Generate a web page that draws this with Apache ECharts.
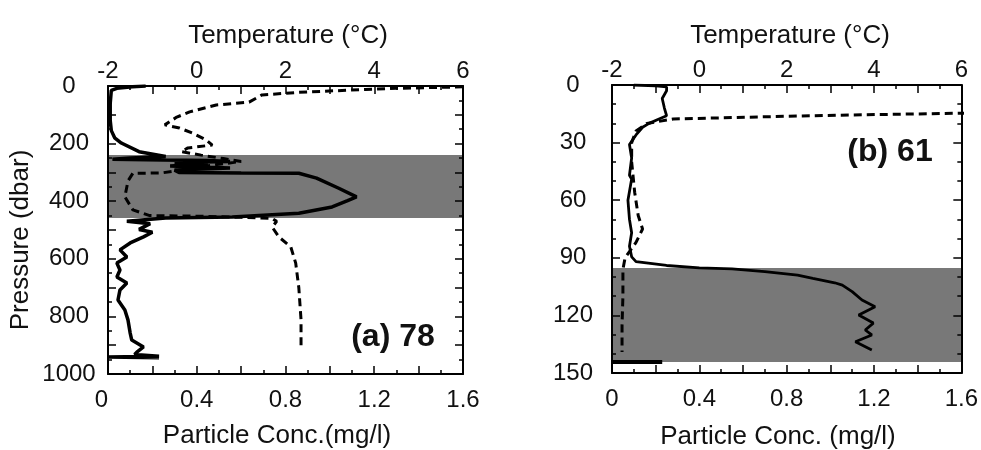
<!DOCTYPE html>
<html>
<head>
<meta charset="utf-8">
<script src="https://cdn.jsdelivr.net/npm/echarts@6/dist/echarts.min.js"></script>
<style>
html,body{margin:0;padding:0;background:#fff;}
#chart{width:981px;height:450px;}
</style>
</head>
<body>
<div id="chart"></div>
<script>
// ---- Tick labels ----
const tempTicks = [-2, 0, 2, 4, 6];
const concTicks = [0, 0.4, 0.8, 1.2, 1.6];
const pressTicksA = [0, 200, 400, 600, 800, 1000];
const pressTicksB = [0, 30, 60, 90, 120, 150];

// ---- Panel (a) station 78: [particle conc (mg/l), pressure (dbar)] ----
const concA = [
  [0.17,0],[0.11,3],[0.04,8],[0.015,15],[0.01,60],[0.01,120],[0.015,155],[0.03,180],[0.06,198],
  [0.14,228],[0.26,245],[0.1,250],[0.02,254],[0.25,257],[0.45,259],[0.55,262],[0.3,266],[0.45,270],
  [0.28,278],[0.55,285],[0.3,292],[0.32,300],[0.6,302],[0.86,303],[0.94,320],[1.04,355],[1.12,385],
  [1.08,398],[1.01,420],[0.86,442],[0.56,455],[0.26,458],[0.085,470],[0.19,478],[0.14,498],[0.2,508],
  [0.16,524],[0.1,545],[0.054,569],[0.085,594],[0.04,615],[0.054,639],[0.04,663],[0.085,684],
  [0.054,708],[0.045,743],[0.076,778],[0.09,812],[0.1,858],[0.107,882],[0.16,906],[0.13,924],
  [0.12,932],[0.23,938],[0.0,941],[0.23,944]
];
// [temperature (°C), pressure (dbar)]
const tempA = [
  [6,3],[4.5,8],[3.8,12],[2.3,22],[1.47,31],[1.18,56],[0.44,66],[-0.16,90],[-0.45,108],[-0.72,135],
  [-0.39,146],[-0.1,163],[0.22,188],[0.35,205],[-0.2,215],[-0.35,228],[0.1,240],[0.6,252],[1.0,262],
  [0.5,272],[0.0,282],[-0.5,295],[-0.8,302],[-1.44,303],[-1.55,330],[-1.62,385],[-1.44,430],
  [-1.06,450],[0.0,452],[1.0,456],[1.7,460],[1.8,470],[1.7,490],[1.85,524],[2.12,559],[2.23,615],
  [2.3,700],[2.35,812],[2.35,915]
];
const bandA = [240, 458];

// ---- Panel (b) station 61 ----
const concB = [
  [0.1,0],[0.2,0.5],[0.25,1],[0.25,3],[0.23,7],[0.24,12],[0.25,16],[0.21,18],[0.17,20],[0.14,22],
  [0.11,26],[0.08,31],[0.09,38],[0.08,47],[0.09,49],[0.073,60],[0.08,70],[0.09,77],[0.08,84],
  [0.09,89.5],[0.11,92],[0.25,94],[0.4,95.2],[0.55,95.8],[0.7,97.2],[0.85,99],[0.92,100.7],
  [1.02,103],[1.055,104.2],[1.1,107.6],[1.145,112],[1.205,115.5],[1.13,119.8],[1.197,124],
  [1.16,127.6],[1.19,130.2],[1.115,133.7],[1.19,138]
];
const concBarB = [[0,144.3],[0.23,144.3]];
const tempB = [
  [8,0],[7.5,10],[6.5,14.5],[6.0,14.7],[3.5,15.6],[2.0,16.3],[-0.6,17.7],[-1.2,20],[-1.45,24],
  [-1.55,30],[-1.55,40],[-1.48,56],[-1.4,68],[-1.3,75],[-1.45,82],[-1.7,90],[-1.75,96],
  [-1.75,110],[-1.77,125],[-1.77,139]
];
const bandB = [95.3, 144.3];

const FONT = '"Liberation Sans", Arial, Helvetica, sans-serif';
const TXT = '#111';
const lineCol = '#000';

function hasTick(list, v) {
  return list.some(t => Math.abs(t - v) < 1e-6);
}
function fmt(v) {
  const r = Math.round(v * 10) / 10;
  return String(r);
}

function xConc(grid, alignMin) {
  return {
    type: 'value', gridIndex: grid, position: 'bottom', min: 0, max: 1.6, interval: 0.2, z: 10,
    axisLine: {show: true, onZero: false, lineStyle: {color: lineCol, width: 2}},
    axisTick: {show: true, inside: true, length: 8, lineStyle: {color: lineCol, width: 1.5}},
    minorTick: {show: true, splitNumber: 2, length: 4, lineStyle: {color: lineCol, width: 1.5}},
    splitLine: {show: false},
    axisLabel: {
      margin: 14, color: TXT, fontFamily: FONT, fontSize: 24,
      alignMinLabel: alignMin,
      formatter: v => hasTick(concTicks, v) ? fmt(v) : ''
    }
  };
}
function xTemp(grid) {
  return {
    type: 'value', gridIndex: grid, position: 'top', min: -2, max: 6, interval: 1, z: 10,
    axisLine: {show: true, onZero: false, lineStyle: {color: lineCol, width: 2}},
    axisTick: {show: true, inside: true, length: 8, lineStyle: {color: lineCol, width: 1.5}},
    minorTick: {show: true, splitNumber: 2, length: 4, lineStyle: {color: lineCol, width: 1.5}},
    splitLine: {show: false},
    axisLabel: {
      margin: 3, color: TXT, fontFamily: FONT, fontSize: 24,
      formatter: v => hasTick(tempTicks, v) ? fmt(v) : ''
    }
  };
}
function yPress(grid, pos, max, interval, minorSplit, ticks, showLabel) {
  return {
    type: 'value', gridIndex: grid, position: pos, inverse: true, min: 0, max: max, interval: interval, z: 10,
    axisLine: {show: true, onZero: false, lineStyle: {color: lineCol, width: 2}},
    axisTick: {show: true, inside: true, length: 8, lineStyle: {color: lineCol, width: 1.5}},
    minorTick: {show: true, splitNumber: minorSplit, length: 4, lineStyle: {color: lineCol, width: 1.5}},
    splitLine: {show: false},
    axisLabel: {
      show: showLabel, margin: 39, align: 'center', color: TXT, fontFamily: FONT, fontSize: 24,
      formatter: v => hasTick(ticks, v) ? String(Math.round(v)) : ''
    }
  };
}

const option = {
  backgroundColor: '#fff',
  animation: false,
  grid: [
    {left: 108, top: 86, width: 355, height: 288},
    {left: 612, top: 85, width: 356, height: 288}
  ],
  xAxis: [
    xConc(0, 'right'), xTemp(0),
    xConc(1, 'center'), xTemp(1)
  ],
  yAxis: [
    yPress(0, 'left', 1000, 100, 2, pressTicksA, true),
    yPress(0, 'right', 1000, 100, 2, pressTicksA, false),
    yPress(1, 'left', 150, 30, 3, pressTicksB, true),
    yPress(1, 'right', 150, 30, 3, pressTicksB, false)
  ],
  series: [
    {
      type: 'line', xAxisIndex: 0, yAxisIndex: 0, data: [], symbol: 'none', z: 1,
      markArea: {silent: true, itemStyle: {color: '#787878', opacity: 1},
        data: [[{yAxis: bandA[0]}, {yAxis: bandA[1]}]]}
    },
    {
      type: 'line', xAxisIndex: 2, yAxisIndex: 2, data: [], symbol: 'none', z: 1,
      markArea: {silent: true, itemStyle: {color: '#787878', opacity: 1},
        data: [[{yAxis: bandB[0]}, {yAxis: bandB[1]}]]}
    },
    {type: 'line', xAxisIndex: 0, yAxisIndex: 0, data: concA, symbol: 'none', z: 5,
      lineStyle: {color: '#000', width: 3.5}},
    {type: 'line', xAxisIndex: 1, yAxisIndex: 0, data: tempA, symbol: 'none', z: 5,
      lineStyle: {color: '#000', width: 3, type: [8, 5]}},
    {type: 'line', xAxisIndex: 2, yAxisIndex: 2, data: concB, symbol: 'none', z: 5,
      lineStyle: {color: '#000', width: 2.8}},
    {type: 'line', xAxisIndex: 2, yAxisIndex: 2, data: concBarB, symbol: 'none', z: 5,
      lineStyle: {color: '#000', width: 4}},
    {type: 'line', xAxisIndex: 3, yAxisIndex: 2, data: tempB, symbol: 'none', z: 5,
      lineStyle: {color: '#000', width: 3, type: [8, 5]}}
  ],
  graphic: [
    {type: 'text', x: 288, y: 36, style: {text: 'Temperature (°C)', font: '26px ' + FONT, fill: TXT, align: 'center', verticalAlign: 'middle'}},
    {type: 'text', x: 790, y: 36, style: {text: 'Temperature (°C)', font: '26px ' + FONT, fill: TXT, align: 'center', verticalAlign: 'middle'}},
    {type: 'text', x: 277, y: 436, style: {text: 'Particle Conc.(mg/l)', font: '26px ' + FONT, fill: TXT, align: 'center', verticalAlign: 'middle'}},
    {type: 'text', x: 778, y: 437, style: {text: 'Particle Conc. (mg/l)', font: '26px ' + FONT, fill: TXT, align: 'center', verticalAlign: 'middle'}},
    {type: 'text', x: 21, y: 240, rotation: Math.PI / 2, style: {text: 'Pressure (dbar)', font: '26px ' + FONT, fill: TXT, align: 'center', verticalAlign: 'middle'}},
    {type: 'text', x: 393, y: 337, style: {text: '(a) 78', font: 'bold 32px ' + FONT, fill: TXT, align: 'center', verticalAlign: 'middle'}},
    {type: 'text', x: 890, y: 152, style: {text: '(b) 61', font: 'bold 32px ' + FONT, fill: TXT, align: 'center', verticalAlign: 'middle'}}
  ]
};

const chart = echarts.init(document.getElementById('chart'), null, {renderer: 'canvas'});
chart.setOption(option);
</script>
</body>
</html>
